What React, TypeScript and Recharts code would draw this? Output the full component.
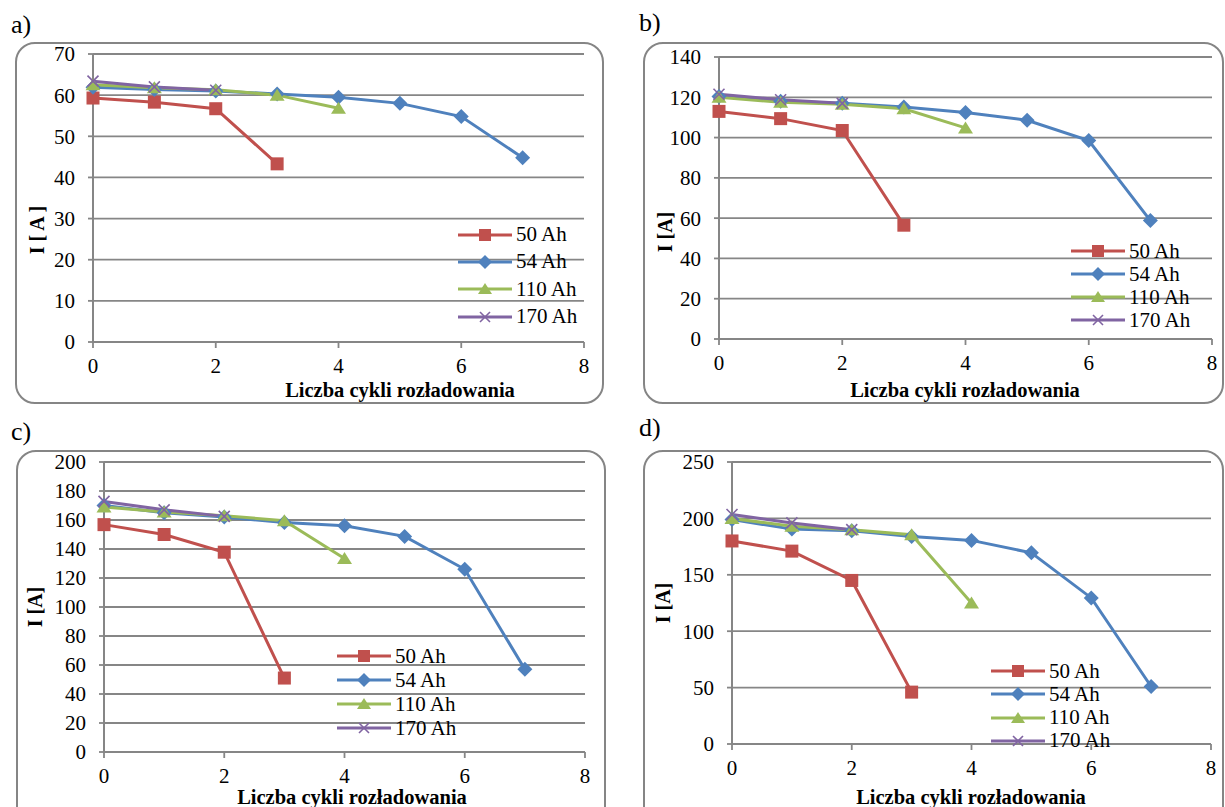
import { CartesianGrid, Legend, Line, LineChart, XAxis, YAxis } from "recharts";

const cycles = [0, 1, 2, 3, 4, 5, 6, 7];
const xTicks = [0, 2, 4, 6, 8];
const names = ["50 Ah", "54 Ah", "110 Ah", "170 Ah"];

// a)
const a50 = [59.3, 58.3, 56.7, 43.3];
const a54 = [61.9, 61.4, 61.0, 60.3, 59.5, 58.0, 54.8, 44.8];
const a110 = [62.5, 61.8, 61.3, 60.0, 56.8];
const a170 = [63.4, 62.0, 61.2];
const aTicks = [0, 10, 20, 30, 40, 50, 60, 70];

// b)
const b50 = [113, 109.4, 103.5, 56.5];
const b54 = [120.4, 118, 117, 115.2, 112.5, 108.6, 98.5, 58.8];
const b110 = [120, 117.5, 116.5, 114.3, 104.8];
const b170 = [121.5, 118.8, 117];
const bTicks = [0, 20, 40, 60, 80, 100, 120, 140];

// c)
const c50 = [156.8, 150, 137.8, 51];
const c54 = [170, 165, 162, 158.3, 156, 148.7, 126, 57];
const c110 = [169, 165.5, 163, 159.5, 133.5];
const c170 = [172.8, 167, 162.5];
const cTicks = [0, 20, 40, 60, 80, 100, 120, 140, 160, 180, 200];

// d)
const d50 = [180, 171, 145, 46];
const d54 = [199, 190.5, 189, 184, 180.5, 169.5, 129.5, 51];
const d110 = [200, 193, 190, 185.5, 125];
const d170 = [203.5, 196, 190];
const dTicks = [0, 50, 100, 150, 200, 250];

const COLORS = ["#C0504D", "#4F81BD", "#9BBB59", "#8064A2"];
const KINDS = ["square", "diamond", "triangle", "cross"];
const GRID = "#868686";
const FONT = "Liberation Serif, Times New Roman, serif";

const toPoints = (vals: number[]) => vals.map((v, i) => ({ x: cycles[i], y: v }));

function Marker({ kind, cx, cy, color, size }: { kind: string; cx: number; cy: number; color: string; size: number }) {
  const h = size / 2;
  if (kind === "square") return <rect x={cx - h} y={cy - h} width={size} height={size} fill={color} />;
  if (kind === "diamond")
    return <polygon points={`${cx},${cy - h - 1} ${cx + h + 1},${cy} ${cx},${cy + h + 1} ${cx - h - 1},${cy}`} fill={color} />;
  if (kind === "triangle")
    return <polygon points={`${cx},${cy - h} ${cx + h + 1},${cy + h - 1} ${cx - h - 1},${cy + h - 1}`} fill={color} />;
  const k = h - 1;
  return (
    <g stroke={color} strokeWidth={1.6}>
      <line x1={cx - k} y1={cy - k} x2={cx + k} y2={cy + k} />
      <line x1={cx - k} y1={cy + k} x2={cx + k} y2={cy - k} />
    </g>
  );
}

function makeDot(kind: string, color: string) {
  return (props: any) => {
    const { cx, cy, index } = props;
    if (cx == null || cy == null) return <g key={`d-${index}`} />;
    return (
      <g key={`d-${kind}-${index}`}>
        <Marker kind={kind} cx={cx} cy={cy} color={color} size={13} />
      </g>
    );
  };
}

function LegendContent({ payload, rowH }: any) {
  const items = [...(payload || [])].sort((p: any, q: any) => names.indexOf(p.value) - names.indexOf(q.value));
  return (
    <div style={{ fontFamily: FONT, fontSize: 21, color: "#000" }}>
      {items.map((p: any) => {
        const i = names.indexOf(p.value);
        return (
          <div key={p.value} style={{ display: "flex", alignItems: "center", height: rowH }}>
            <svg width={56} height={16} style={{ display: "block" }}>
              <line x1={0} y1={8} x2={54} y2={8} stroke={COLORS[i]} strokeWidth={3} />
              <Marker kind={KINDS[i]} cx={27} cy={8} color={COLORS[i]} size={12} />
            </svg>
            <span style={{ marginLeft: 2, lineHeight: 1, whiteSpace: "nowrap", fontFamily: FONT }}>{p.value}</span>
          </div>
        );
      })}
    </div>
  );
}

interface PanelProps {
  tag: string;
  ox: number;
  oy: number;
  w: number;
  h: number;
  plot: { l: number; t: number; r: number; b: number };
  box: { l: number; t: number; w: number; h: number };
  series: number[][];
  ticks: number[];
  yTitle: string;
  yTitlePos: [number, number];
  xTitlePos: [number, number];
  tagPos: [number, number];
  legend: { l: number; t: number; rowH: number };
}

function Panel(p: PanelProps) {
  const max = p.ticks[p.ticks.length - 1];
  const tickStyle = { fill: "#000", fontSize: 21, fontFamily: FONT, style: { fontFamily: FONT } };
  return (
    <>
      <div
        style={{
          position: "absolute",
          left: p.box.l,
          top: p.box.t,
          width: p.box.w,
          height: p.box.h,
          border: "2px solid #858585",
          borderRadius: 20,
          boxSizing: "border-box",
        }}
      />
      <div
        style={{
          position: "absolute",
          left: p.tagPos[0],
          top: p.tagPos[1],
          transform: "translateY(-50%)",
          fontSize: 26,
          lineHeight: 1,
        }}
      >
        {p.tag}
      </div>
      <div style={{ position: "absolute", left: p.ox, top: p.oy, fontFamily: FONT }}>
        <LineChart
          width={p.w}
          height={p.h}
          margin={{ top: p.plot.t, right: p.w - p.plot.r, left: 0, bottom: p.h - p.plot.b - 30 }}
        >
          <CartesianGrid vertical={false} stroke={GRID} strokeWidth={1.8} />
          <XAxis
            dataKey="x"
            type="number"
            domain={[0, 8]}
            ticks={xTicks}
            interval={0}
            height={30}
            tickSize={6}
            tickMargin={10}
            axisLine={{ stroke: GRID, strokeWidth: 2 }}
            tickLine={{ stroke: GRID, strokeWidth: 1.8 }}
            tick={tickStyle}
            allowDuplicatedCategory={false}
          />
          <YAxis
            type="number"
            domain={[0, max]}
            ticks={p.ticks}
            interval={0}
            width={p.plot.l}
            tickSize={5}
            tickMargin={13}
            axisLine={{ stroke: GRID, strokeWidth: 2 }}
            tickLine={{ stroke: GRID, strokeWidth: 1.8 }}
            tick={tickStyle}
          />
          <Legend
            layout="vertical"
            align="center"
            verticalAlign="middle"
            wrapperStyle={{ left: p.legend.l, top: p.legend.t, width: "auto" }}
            content={<LegendContent rowH={p.legend.rowH} />}
          />
          {p.series.map((vals, i) => (
            <Line
              key={names[i]}
              name={names[i]}
              data={toPoints(vals)}
              dataKey="y"
              type="linear"
              stroke={COLORS[i]}
              strokeWidth={3}
              dot={makeDot(KINDS[i], COLORS[i])}
              activeDot={false}
              isAnimationActive={false}
            />
          ))}
        </LineChart>
      </div>
      <div
        style={{
          position: "absolute",
          left: p.xTitlePos[0],
          top: p.xTitlePos[1],
          transform: "translate(-50%, -50%)",
          fontWeight: "bold",
          fontSize: 20.5,
          whiteSpace: "nowrap",
          lineHeight: 0.85,
        }}
      >
        Liczba cykli rozładowania
      </div>
      <div
        style={{
          position: "absolute",
          left: p.yTitlePos[0],
          top: p.yTitlePos[1],
          transform: "translate(-50%, -50%) rotate(-90deg)",
          fontWeight: "bold",
          fontSize: 20,
          whiteSpace: "pre",
          lineHeight: 1,
        }}
      >
        {p.yTitle}
      </div>
    </>
  );
}

export default function App() {
  return (
    <div
      style={{
        position: "absolute",
        left: 0,
        top: 0,
        width: 1225,
        height: 807,
        overflow: "hidden",
        background: "#fff",
        fontFamily: FONT,
        color: "#000",
      }}
    >
      <Panel
        tag="a)"
        ox={0}
        oy={0}
        w={612}
        h={404}
        plot={{ l: 93, t: 54, r: 584, b: 342 }}
        box={{ l: 15, t: 42, w: 589, h: 362 }}
        series={[a50, a54, a110, a170]}
        ticks={aTicks}
        yTitle="I [ A ]"
        yTitlePos={[37, 230]}
        xTitlePos={[400, 391]}
        tagPos={[11, 25]}
        legend={{ l: 458, t: 221, rowH: 27.3 }}
      />
      <Panel
        tag="b)"
        ox={612}
        oy={0}
        w={613}
        h={404}
        plot={{ l: 107, t: 57, r: 600, b: 339 }}
        box={{ l: 643, t: 42, w: 581, h: 362 }}
        series={[b50, b54, b110, b170]}
        ticks={bTicks}
        yTitle="I [A]"
        yTitlePos={[665, 232]}
        xTitlePos={[965, 391]}
        tagPos={[639, 23]}
        legend={{ l: 459, t: 239.5, rowH: 23 }}
      />
      <Panel
        tag="c)"
        ox={0}
        oy={404}
        w={612}
        h={403}
        plot={{ l: 104, t: 58, r: 585, b: 348 }}
        box={{ l: 16, t: 450, w: 590, h: 400 }}
        series={[c50, c54, c110, c170]}
        ticks={cTicks}
        yTitle="I [A]"
        yTitlePos={[35, 607]}
        xTitlePos={[352, 798]}
        tagPos={[11, 432]}
        legend={{ l: 337, t: 240, rowH: 24 }}
      />
      <Panel
        tag="d)"
        ox={612}
        oy={404}
        w={613}
        h={403}
        plot={{ l: 120, t: 58, r: 599, b: 340 }}
        box={{ l: 643, t: 450, w: 581, h: 400 }}
        series={[d50, d54, d110, d170]}
        ticks={dTicks}
        yTitle="I [A]"
        yTitlePos={[663, 603]}
        xTitlePos={[971, 798]}
        tagPos={[639, 428]}
        legend={{ l: 379, t: 255.4, rowH: 23.3 }}
      />
    </div>
  );
}
